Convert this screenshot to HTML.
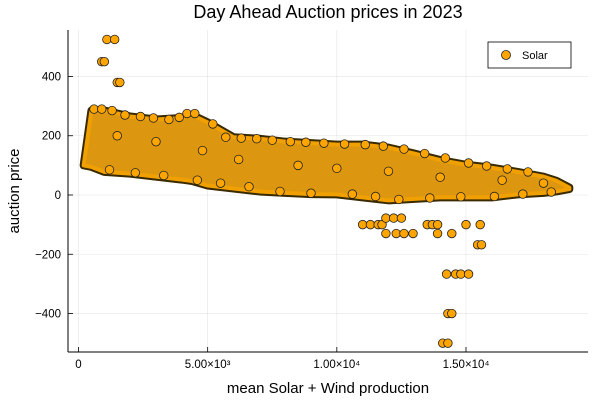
<!DOCTYPE html>
<html><head><meta charset="utf-8"><style>
body{margin:0;background:#fff}
svg{font-family:"Liberation Sans","DejaVu Sans",sans-serif}
</style></head><body>
<svg id="chart" width="600" height="400" viewBox="0 0 600 400" xmlns="http://www.w3.org/2000/svg">
<rect width="600" height="400" fill="#fff"/>
<text x="328" y="18" font-size="18" text-anchor="middle" fill="#000">Day Ahead Auction prices in 2023</text>
<g id="grid"></g>
<g id="marks"></g>
<g id="axes"></g>
<text x="328" y="393" font-size="15" text-anchor="middle">mean Solar + Wind production</text>
<text transform="translate(19,191) rotate(-90)" font-size="15" text-anchor="middle">auction price</text>
<g>
<rect x="488" y="42" width="83" height="26" fill="#fff" stroke="#000" stroke-width="0.8"/>
<circle cx="506" cy="55" r="4.5" fill="#FFA500" stroke="#222" stroke-width="0.8"/>
<text x="522" y="59" font-size="11">Solar</text>
</g>
</svg>
<script>
const bandX  = [0.2,0.5,1.0,2,3,4,4.4,5,6,7,8,9,10,11,12,13,14,15,16,17,18,18.5,19];
const bandHi = [100,285,285,265,255,260,270,245,195,190,180,175,170,170,160,140,118,102,92,78,62,48,25];
const bandLo = [100,95,78,72,62,52,47,32,22,12,7,3,2,-8,-18,-13,-8,-8,-8,2,7,12,20];
const texX = [0.6,0.9,1.3,1.8,2.4,2.9,3.5,3.9,5.2,5.7,6.3,6.9,7.5,8.2,8.8,9.5,10.3,11.1,11.8,12.6,13.4,14.2,15.1,15.8,16.6,17.4,1.2,2.2,3.3,4.6,5.5,6.6,7.8,9.0,10.6,11.5,12.4,13.6,14.8,16.1,17.2,18.3,1.5,3.0,4.8,6.2,8.5,10.0,12.0,14.0,16.4,18.0];
const texY = [290,290,285,270,265,260,255,262,240,195,192,190,185,180,178,175,172,170,165,155,140,125,108,98,88,78,85,75,66,50,40,28,12,6,3,-5,-15,-10,-6,-5,3,10,200,180,150,120,100,90,80,60,50,40];
const outX = [1.1,1.4,0.9,1.0,1.5,1.6,4.2,4.5,11.0,11.3,11.6,11.75,11.9,12.2,12.5,11.9,12.3,12.6,12.95,13.5,13.7,13.9,13.9,14.45,15.0,15.55,15.45,15.6,14.25,14.6,14.8,15.1,14.3,14.45,14.1,14.3];
const outY = [525,525,450,450,380,380,275,275,-100,-100,-100,-100,-78,-78,-78,-130,-130,-130,-130,-100,-100,-100,-130,-130,-100,-100,-168,-168,-267,-267,-267,-267,-400,-400,-500,-500];
const xTicks=[0,5000,10000,15000];
const xTickLabels=["0","5.00×10³","1.00×10⁴","1.50×10⁴"];
const yTicks=[-400,-200,0,200,400];
const yTickLabels=["−400","−200","0","200","400"];
const NS="http://www.w3.org/2000/svg";
const X=v=>78.5+v*0.025833;
const Xk=v=>X(v*1000);
const Y=v=>195-v*0.2963;
const L=68,R=588,T=30,B=352;
function mk(t,a,p){const e=document.createElementNS(NS,t);for(const k in a)e.setAttribute(k,a[k]);p.appendChild(e);return e;}
const grid=document.getElementById('grid'),axes=document.getElementById('axes'),marks=document.getElementById('marks');
xTicks.forEach((t,i)=>{
 const g=mk('line',{x1:X(t),x2:X(t),y1:T,y2:B,stroke:'#000','stroke-opacity':0.1,'stroke-width':0.6},grid);
 
 const tk=mk('line',{x1:X(t),x2:X(t),y1:B,y2:B-5,stroke:'#000','stroke-width':0.8},axes);
 
 const tx=mk('text',{x:X(t),y:B+16,'font-size':11.5,'text-anchor':'middle'},axes);
 tx.textContent=xTickLabels[i];
 
});
yTicks.forEach((t,i)=>{
 const g=mk('line',{x1:L,x2:R,y1:Y(t),y2:Y(t),stroke:'#000','stroke-opacity':0.1,'stroke-width':0.6},grid);
 
 const tk=mk('line',{x1:L,x2:L+5,y1:Y(t),y2:Y(t),stroke:'#000','stroke-width':0.8},axes);
 
 const tx=mk('text',{x:L-7,y:Y(t)+4,'font-size':11.5,'text-anchor':'end'},axes);
 tx.textContent=yTickLabels[i];
 
});
const ax1=mk('line',{x1:L,x2:L,y1:T,y2:B,stroke:'#000','stroke-width':1},axes);

const ax2=mk('line',{x1:L,x2:R,y1:B,y2:B,stroke:'#000','stroke-width':1},axes);

let pts=[];
bandX.forEach((x,i)=>pts.push(Xk(x)+','+Y(bandHi[i])));
for(let i=bandX.length-1;i>=0;i--)pts.push(Xk(bandX[i])+','+Y(bandLo[i]));
const poly=mk('polygon',{points:pts.join(' '),fill:'#D8920E',stroke:'#3a2a00','stroke-width':8,'stroke-linejoin':'round'},marks);

const poly2=mk('polygon',{points:pts.join(' '),fill:'#DC960F',stroke:'#F0A000','stroke-width':4,'stroke-linejoin':'round'},marks);

texX.forEach((x,i)=>{
 const c=mk('circle',{cx:Xk(x),cy:Y(texY[i]),r:4.3,fill:'#FFA500',stroke:'#222','stroke-width':0.8},marks);
 
});
outX.forEach((x,i)=>{
 const c=mk('circle',{cx:Xk(x),cy:Y(outY[i]),r:4.3,fill:'#FFA500',stroke:'#222','stroke-width':0.8},marks);
 
});
</script>
</body></html>
